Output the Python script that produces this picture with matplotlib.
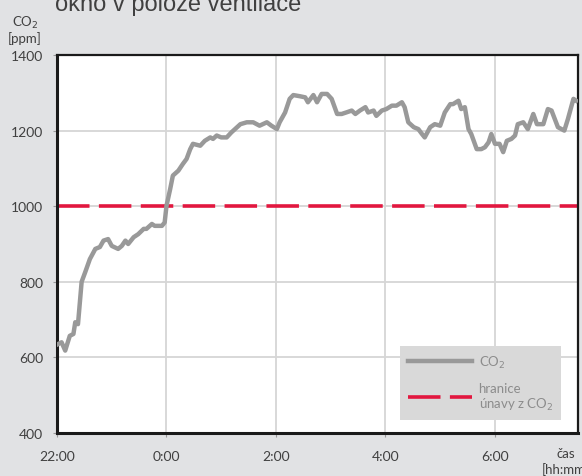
import matplotlib
matplotlib.use("Agg")
import matplotlib.pyplot as plt
from matplotlib.lines import Line2D

# minutes after 22:00
minutes = [1, 5, 9, 14, 18, 20, 23, 27, 31, 36, 42, 47, 51, 56, 60, 67, 71, 75, 78, 84,
           89, 95, 98, 104, 107, 115, 118, 120, 124, 127, 133, 138, 142, 146, 149, 157,
           162, 168, 171, 175, 180, 186, 191, 201, 208, 215, 222, 230, 235, 241, 244,
           250, 255, 259, 266, 272, 275, 281, 285, 290, 296, 301, 307, 312, 317, 323,
           327, 332, 338, 341, 347, 350, 356, 361, 367, 372, 378, 381, 385, 391, 396,
           400, 403, 409, 414, 420, 425, 431, 434, 440, 443, 447, 451, 454, 460, 465,
           469, 473, 476, 480, 485, 489, 493, 498, 502, 505, 511, 516, 522, 526, 533,
           538, 542, 549, 556, 560, 566, 569]
co2 = [635, 640, 618, 657, 662, 693, 688, 800, 826, 860, 887, 892, 909, 913, 895, 887,
       895, 909, 900, 918, 926, 940, 940, 953, 948, 948, 957, 1001, 1045, 1081, 1094,
       1112, 1125, 1151, 1165, 1160, 1173, 1182, 1178, 1187, 1182, 1182, 1195, 1217,
       1222, 1222, 1213, 1222, 1213, 1204, 1222, 1248, 1284, 1294, 1291, 1288, 1275,
       1294, 1275, 1297, 1297, 1284, 1244, 1244, 1248, 1253, 1244, 1253, 1262, 1248,
       1253, 1239, 1253, 1257, 1266, 1266, 1275, 1262, 1222, 1209, 1204, 1191, 1182,
       1209, 1217, 1213, 1248, 1270, 1270, 1279, 1257, 1262, 1204, 1191, 1151, 1151,
       1156, 1169, 1191, 1165, 1165, 1143, 1173, 1178, 1187, 1217, 1222, 1204, 1244,
       1217, 1217, 1257, 1253, 1209, 1200, 1231, 1284, 1279]
limit_value = 1000
x_ticks = [0, 120, 240, 360, 480]
x_tick_labels = ["22:00", "0:00", "2:00", "4:00", "6:00"]
y_ticks = [400, 600, 800, 1000, 1200, 1400]

bg = "#e1e2e4"
txt = "#404040"
fig = plt.figure(figsize=(5.82, 4.77), dpi=100, facecolor=bg)
ax = fig.add_axes([57/582, 1-434/477, (578-57)/582, (434-56)/477])
ax.set_facecolor("white")

ax.set_xlim(0, 571)
ax.set_ylim(400, 1400)
ax.set_xticks(x_ticks)
ax.set_xticklabels(x_tick_labels)
ax.set_yticks(y_ticks)
ax.grid(True, color="#d6d6d6", lw=1.3)
ax.set_axisbelow(True)
ax.tick_params(axis="x", pad=9)
ax.tick_params(axis="y", pad=7)
ax.tick_params(axis="both", length=3, color="#999999", labelsize=10, labelcolor=txt)
for t in ax.get_xticklabels() + ax.get_yticklabels():
    t.set_fontfamily("Lato")

for side in ["left", "bottom"]:
    ax.spines[side].set_linewidth(2.2)
    ax.spines[side].set_color("#1a1a1a")
for side in ["top", "right"]:
    ax.spines[side].set_linewidth(1.6)
    ax.spines[side].set_color("#1a1a1a")

ax.plot(minutes, co2, color="#999999", lw=3.2, solid_joinstyle="round", zorder=3)
ax.axhline(limit_value, color="#e2173f", lw=2.6, dashes=(9.0, 2.6), zorder=2)

handles = [Line2D([0], [0], color="#999999", lw=3.2),
           Line2D([0], [0], color="#e2173f", lw=2.6, dashes=(9.0, 2.6))]
labels = ["CO$_2$", "hranice\núnavy z CO$_2$"]
leg = ax.legend(handles, labels, loc="lower right", bbox_to_anchor=(0.967, 0.034),
                frameon=True, fancybox=False, facecolor="#d9d9d9", edgecolor="#d9d9d9",
                framealpha=1, handlelength=4.85, handletextpad=0.5, labelspacing=0.9,
                borderpad=0.6, borderaxespad=0,
                prop={"family": "Lato", "size": 9.5}, labelcolor="#8c8c8c")
leg.get_frame().set_linewidth(0)

fig.text(55/582, 1-11/477, "okno v poloze ventilace", fontsize=17,
         family=["Liberation Sans Narrow", "Liberation Sans"], color=txt, va="baseline")
fig.text(25/582, 1-30/477, "CO$_2$\n[ppm]", fontsize=9.5, family="Lato", color=txt,
         ha="center", va="center", linespacing=1.1)
fig.text(566/582, 1-462/477, "čas\n[hh:mm]", fontsize=9.5, family="Lato", color=txt,
         ha="center", va="center", linespacing=1.2)

fig.savefig("out.png", dpi=100, facecolor=bg)
